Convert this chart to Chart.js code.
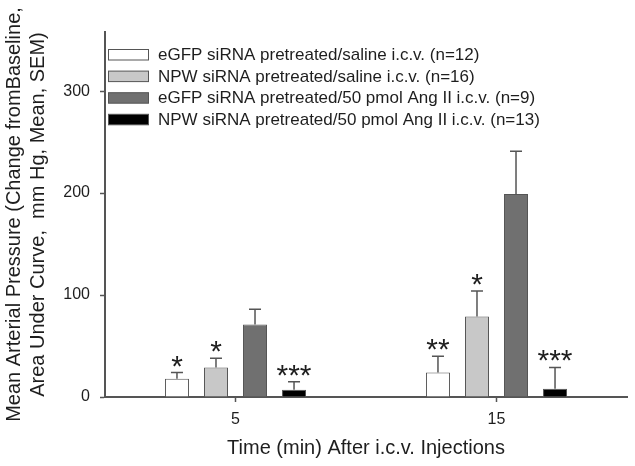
<!DOCTYPE html>
<html>
<head>
<meta charset="utf-8">
<script src="https://cdn.jsdelivr.net/npm/chart.js@4.4.0/dist/chart.umd.min.js"></script>
<style>
  html, body { margin: 0; padding: 0; background: #fff; }
  #wrap { width: 635px; height: 466px; }
</style>
</head>
<body>
<div id="wrap"><canvas id="bp"></canvas></div>
<script>
// Data
const times = ["5", "15"];
const groups = [
  "eGFP siRNA pretreated/saline i.c.v. (n=12)",
  "NPW siRNA pretreated/saline i.c.v. (n=16)",
  "eGFP siRNA pretreated/50 pmol Ang II i.c.v. (n=9)",
  "NPW siRNA pretreated/50 pmol Ang II i.c.v. (n=13)",
];
const eGfpSaline = [18, 24];
const npwSaline = [29, 79];
const eGfpAng = [71, 199];
const npwAng = [7, 8];
const semEGfpSaline = [6, 16];
const semNpwSaline = [9, 25];
const semEGfpAng = [15, 42];
const semNpwAng = [8, 21];
const starsEGfpSaline = ["*", "**"];
const starsNpwSaline = ["*", "*"];
const starsEGfpAng = ["", ""];
const starsNpwAng = ["***", "***"];
const yTicks = [0, 100, 200, 300];

const fills = ["#ffffff", "#c8c8c8", "#707070", "#000000"];
const edge = "#555555";
const ink = "#1e1e1e";
const FONT = "'Liberation Sans', Arial, sans-serif";

function ds(i, vals, sem, stars) {
  return {
    label: groups[i],
    data: vals,
    sem: sem,
    stars: stars,
    backgroundColor: fills[i],
    borderColor: edge,
    borderWidth: 1,
    categoryPercentage: 0.598,
    barPercentage: 0.615,
  };
}

// error bars (upper only) + significance stars
const errorBars = {
  id: "errorBars",
  afterDatasetsDraw(chart) {
    const ctx = chart.ctx;
    const y = chart.scales.y;
    ctx.save();
    chart.data.datasets.forEach((d, i) => {
      chart.getDatasetMeta(i).data.forEach((bar, j) => {
        const top = y.getPixelForValue(d.data[j] + d.sem[j]);
        ctx.strokeStyle = edge;
        ctx.lineWidth = 1.5;
        ctx.beginPath();
        ctx.moveTo(bar.x, bar.y);
        ctx.lineTo(bar.x, top);
        ctx.moveTo(bar.x - 6, top);
        ctx.lineTo(bar.x + 6, top);
        ctx.stroke();
        if (d.stars[j]) {
          ctx.fillStyle = ink;
          ctx.font = "30px " + FONT;
          ctx.textAlign = "center";
          ctx.textBaseline = "alphabetic";
          ctx.fillText(d.stars[j], bar.x, top + 3);
        }
      });
    });
    ctx.restore();
  },
};

// legend drawn inside the plot like the original
const boxLegend = {
  id: "boxLegend",
  afterDraw(chart) {
    const ctx = chart.ctx;
    ctx.save();
    chart.data.datasets.forEach((d, i) => {
      const top = 49.5 + i * 21.6;
      ctx.fillStyle = d.backgroundColor;
      ctx.fillRect(108.5, top, 40, 10.5);
      ctx.strokeStyle = edge;
      ctx.lineWidth = 1;
      ctx.strokeRect(108.5, top, 40, 10.5);
      ctx.fillStyle = ink;
      ctx.font = "17px " + FONT;
      ctx.textAlign = "left";
      ctx.textBaseline = "middle";
      ctx.fillText(d.label, 158, top + 6);
    });
    ctx.restore();
  },
};

new Chart(document.getElementById("bp"), {
  type: "bar",
  data: {
    labels: times,
    datasets: [
      ds(0, eGfpSaline, semEGfpSaline, starsEGfpSaline),
      ds(1, npwSaline, semNpwSaline, starsNpwSaline),
      ds(2, eGfpAng, semEGfpAng, starsEGfpAng),
      ds(3, npwAng, semNpwAng, starsNpwAng),
    ],
  },
  options: {
    responsive: true,
    maintainAspectRatio: false,
    animation: false,
    layout: { padding: { top: 32, right: 8, left: 0, bottom: 0 } },
    plugins: {
      legend: { display: false },
      tooltip: { enabled: false },
    },
    scales: {
      x: {
        offset: true,
        afterFit: (s) => { s.height = 69; },
        grid: {
          offset: false,
          drawOnChartArea: false,
          drawTicks: true,
          tickLength: 5,
          tickWidth: 1.5,
          color: edge,
        },
        border: { display: true, color: edge, width: 2 },
        ticks: {
          color: ink,
          padding: 8,
          font: { family: FONT, size: 16 },
        },
        title: {
          display: true,
          text: "Time (min) After i.c.v. Injections",
          color: ink,
          padding: { top: 0, bottom: 6 },
          font: { family: FONT, size: 20, lineHeight: 1.2 },
        },
      },
      y: {
        min: 0,
        max: 358,
        afterFit: (s) => { s.width = 105; },
        afterBuildTicks: (s) => {
          s.ticks = yTicks.map((v) => ({ value: v }));
        },
        grid: {
          drawOnChartArea: false,
          drawTicks: true,
          tickLength: 5,
          tickWidth: 1.5,
          color: edge,
        },
        border: { display: true, color: edge, width: 2 },
        ticks: {
          color: ink,
          padding: 10,
          font: { family: FONT, size: 16 },
        },
        title: {
          display: true,
          text: [
            "Mean Arterial Pressure (Change fromBaseline,",
            "Area Under Curve,  mm Hg, Mean, SEM)",
          ],
          color: ink,
          padding: { top: 2, bottom: 0 },
          font: { family: FONT, size: 20, lineHeight: 1.2 },
        },
      },
    },
  },
  plugins: [errorBars, boxLegend],
});
</script>
</body>
</html>
